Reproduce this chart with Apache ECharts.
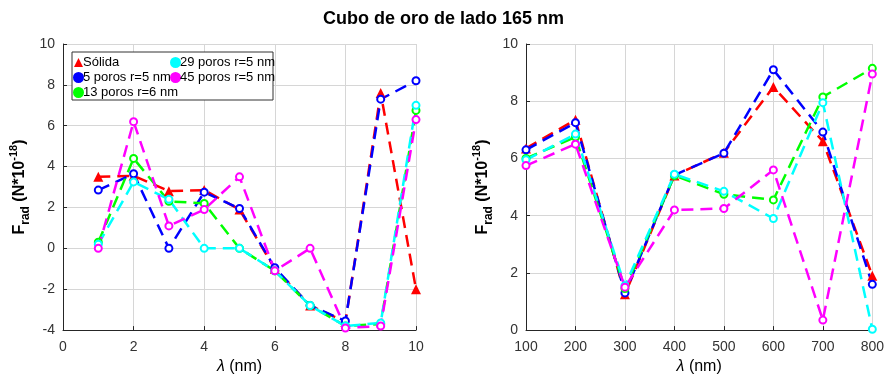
<!DOCTYPE html>
<html>
<head>
<meta charset="utf-8">
<script src="https://cdn.jsdelivr.net/npm/echarts@6/dist/echarts.min.js"></script>
<style>
  html, body { margin: 0; padding: 0; background: #fff; }
  #chart { width: 887px; height: 380px; }
</style>
</head>
<body>
<div id="chart"></div>
<script>
// Radiation force on a gold cube (side 165 nm), two wavelength ranges
const seriesNames = ['Sólida', '5 poros r=5 nm', '13 poros r=6 nm', '29 poros r=5 nm', '45 poros r=5 nm'];
const seriesColors = ['#ff0000', '#0000ff', '#00ff00', '#00ffff', '#ff00ff'];

// Left panel: λ = 1..10 nm
const lambdaSmall = [1, 2, 3, 4, 5, 6, 7, 8, 9, 10];
const solidaSmall = [3.5, 3.55, 2.8, 2.85, 1.9, -1.0, -2.8, -3.6, 7.6, -2.0];
const poros5Small = [2.85, 3.65, 0.0, 2.75, 1.95, -0.95, -2.8, -3.55, 7.3, 8.2];
const poros13Small = [0.3, 4.4, 2.3, 2.2, 0.0, -1.1, -2.8, -3.8, -3.7, 6.75];
const poros29Small = [0.2, 3.25, 2.4, 0.0, 0.0, -1.1, -2.8, -3.8, -3.65, 7.0];
const poros45Small = [0.0, 6.2, 1.1, 1.9, 3.5, -1.1, 0.0, -3.9, -3.8, 6.3];

// Right panel: λ = 100..800 nm
const lambdaLarge = [100, 200, 300, 400, 500, 600, 700, 800];
const solidaLarge = [6.35, 7.35, 1.25, 5.4, 6.2, 8.5, 6.6, 1.9];
const poros5Large = [6.3, 7.25, 1.3, 5.42, 6.18, 9.1, 6.92, 1.6];
const poros13Large = [6.0, 6.75, 1.45, 5.4, 4.75, 4.55, 8.15, 9.15];
const poros29Large = [5.95, 6.85, 1.55, 5.45, 4.85, 3.9, 7.95, 0.03];
const poros45Large = [5.75, 6.5, 1.5, 4.2, 4.25, 5.6, 0.35, 8.95];

// Axis ticks
const xTicksSmall = [0, 2, 4, 6, 8, 10];
const yTicksSmall = [-4, -2, 0, 2, 4, 6, 8, 10];
const xTicksLarge = [100, 200, 300, 400, 500, 600, 700, 800];
const yTicksLarge = [0, 2, 4, 6, 8, 10];

const smallData = [solidaSmall, poros5Small, poros13Small, poros29Small, poros45Small];
const largeData = [solidaLarge, poros5Large, poros13Large, poros29Large, poros45Large];

const FONT = '"Liberation Sans", Arial, Helvetica, sans-serif';
const AXIS_COLOR = '#262626';
const GRID_COLOR = '#d6d6d6';

function zip(xs, ys) { return xs.map((x, i) => [x, ys[i]]); }

function makeSeries(idx, axisIndex, xs, ys) {
  const isTri = idx === 0;
  return {
    name: seriesNames[idx],
    type: 'line',
    xAxisIndex: axisIndex,
    yAxisIndex: axisIndex,
    data: zip(xs, ys),
    color: seriesColors[idx],
    symbol: isTri ? 'triangle' : 'emptyCircle',
    symbolSize: isTri ? 10 : 7,
    showAllSymbol: true,
    lineStyle: { width: 2.5, type: [12, 7], color: seriesColors[idx] },
    itemStyle: { color: seriesColors[idx], borderColor: seriesColors[idx], borderWidth: isTri ? 0 : 2 },
    emphasis: { disabled: true },
    animation: false
  };
}

const yName = '{b|F}{sub|rad}{b| (N*10}{sup|-18}{b|)}';
const yNameStyle = {
  fontFamily: FONT,
  rich: {
    b: { fontSize: 16, fontWeight: 'bold', color: '#000', lineHeight: 24, verticalAlign: 'middle', fontFamily: FONT },
    sub: { fontSize: 12, fontWeight: 'bold', color: '#000', lineHeight: 24, verticalAlign: 'bottom', fontFamily: FONT },
    sup: { fontSize: 11, fontWeight: 'bold', color: '#000', lineHeight: 24, verticalAlign: 'top', fontFamily: FONT }
  }
};
const xName = '{i|λ}{n| (nm)}';
const xNameStyle = {
  rich: {
    i: { fontSize: 16, fontStyle: 'italic', color: '#000', fontFamily: FONT },
    n: { fontSize: 16, color: '#000', fontFamily: FONT }
  }
};

function xAxisCfg(gridIndex, ticks) {
  return {
    type: 'value', gridIndex,
    min: ticks[0], max: ticks[ticks.length - 1], interval: ticks[1] - ticks[0],
    name: xName, nameLocation: 'middle', nameGap: 28, nameTextStyle: xNameStyle,
    axisLine: { show: true, onZero: false, lineStyle: { color: AXIS_COLOR, width: 1 } },
    axisTick: { show: true, inside: true, length: 4, lineStyle: { color: AXIS_COLOR } },
    axisLabel: { color: '#333', fontSize: 14, fontFamily: FONT, margin: 10 },
    splitLine: { show: true, lineStyle: { color: GRID_COLOR, width: 1 } }
  };
}
function yAxisCfg(gridIndex, ticks, gap) {
  return {
    type: 'value', gridIndex,
    min: ticks[0], max: ticks[ticks.length - 1], interval: ticks[1] - ticks[0],
    name: yName, nameLocation: 'middle', nameGap: gap, nameRotate: 90, nameTextStyle: yNameStyle,
    axisLine: { show: true, onZero: false, lineStyle: { color: AXIS_COLOR, width: 1 } },
    axisTick: { show: true, inside: true, length: 4, lineStyle: { color: AXIS_COLOR } },
    axisLabel: { color: '#333', fontSize: 14, fontFamily: FONT, margin: 8 },
    splitLine: { show: true, lineStyle: { color: GRID_COLOR, width: 1 } }
  };
}

// Legend text sits right against its marker
const legendText = { fontSize: 13, color: '#000', fontFamily: FONT, lineHeight: 15, padding: [0, 0, 0, -5] };
function legendItems(ids) {
  return ids.map(i => ({ name: seriesNames[i], icon: i === 0 ? 'triangle' : 'circle' }));
}

const series = [];
for (let i = 0; i < seriesNames.length; i++) series.push(makeSeries(i, 0, lambdaSmall, smallData[i]));
for (let i = 0; i < seriesNames.length; i++) series.push(makeSeries(i, 1, lambdaLarge, largeData[i]));

const chart = echarts.init(document.getElementById('chart'), null, { renderer: 'canvas' });
chart.setOption({
  backgroundColor: '#fff',
  animation: false,
  title: {
    text: 'Cubo de oro de lado 165 nm',
    left: 'center', top: 5,
    textStyle: { fontSize: 18, fontWeight: 'bold', color: '#000', fontFamily: FONT }
  },
  grid: [
    { left: 63, top: 44, width: 353, height: 288 },
    { left: 526, top: 44, width: 352, height: 288 }
  ],
  xAxis: [xAxisCfg(0, xTicksSmall), xAxisCfg(1, xTicksLarge)],
  yAxis: [yAxisCfg(0, yTicksSmall, 31), yAxisCfg(1, yTicksLarge, 31)],
  legend: [
    {
      data: legendItems([0, 1, 2]), orient: 'vertical', left: 73, top: 55, padding: 0,
      itemWidth: 9, itemHeight: 9, itemGap: 0, textStyle: legendText,
      selectedMode: false, z: 10
    },
    {
      data: legendItems([3, 4]), orient: 'vertical', left: 170, top: 55, padding: 0,
      itemWidth: 9, itemHeight: 9, itemGap: 0, textStyle: legendText,
      selectedMode: false, z: 10
    }
  ],
  graphic: [
    {
      type: 'rect', z: 9,
      shape: { x: 72, y: 52, width: 201, height: 48 },
      style: { fill: '#fff', stroke: '#333', lineWidth: 1 }
    }
  ],
  series
});
</script>
</body>
</html>
